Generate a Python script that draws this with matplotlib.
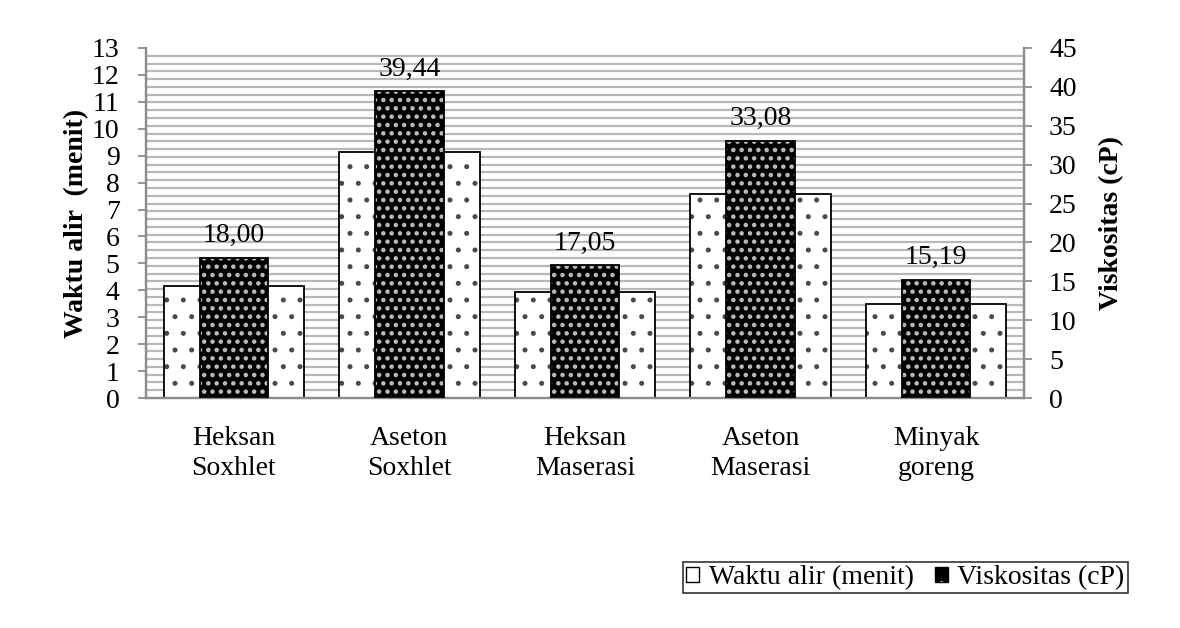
import numpy as np
import matplotlib
matplotlib.use("Agg")
import matplotlib.pyplot as plt
from matplotlib.patches import Patch
from matplotlib.ticker import FixedLocator

plt.rcParams['font.family'] = ['Liberation Serif', 'DejaVu Serif']

categories = ["Heksan\nSoxhlet", "Aseton\nSoxhlet", "Heksan\nMaserasi", "Aseton\nMaserasi", "Minyak\ngoreng"]
waktu_alir = [4.15, 9.12, 3.92, 7.58, 3.50]
viskositas = [18.00, 39.44, 17.05, 33.08, 15.19]
visk_labels = ["18,00", "39,44", "17,05", "33,08", "15,19"]

gray = "#8c8c8c"
fs = 20

fig = plt.figure(figsize=(11.8, 6.28), dpi=100)
ax1 = fig.add_axes([0.1237, 0.3662, 0.7441, 0.5574])
ax2 = ax1.twinx()

x = np.arange(len(categories))

# white bars (waktu alir) with sparse dark dots
with plt.rc_context({'hatch.linewidth': 1.2}):
    ax1.bar(x, waktu_alir, width=0.8, color="white", edgecolor="#4a4a4a", hatch=".", linewidth=0, zorder=2)
ax1.bar(x, waktu_alir, width=0.8, fill=False, edgecolor="black", linewidth=1.3, zorder=3)

# black bars (viskositas) with white dots
with plt.rc_context({'hatch.linewidth': 2.0}):
    ax2.bar(x, viskositas, width=0.39, color="black", edgecolor="#bdbdbd", hatch="..", linewidth=0, zorder=2)
ax2.bar(x, viskositas, width=0.39, fill=False, edgecolor="black", linewidth=1.3, zorder=3)

for xi, v, lab in zip(x, viskositas, visk_labels):
    ax2.annotate(lab, (xi, v), xytext=(0, 7), textcoords="offset points",
                 ha="center", va="bottom", fontsize=fs)

ax1.set_xlim(-0.5, len(categories) - 0.5)
ax1.set_ylim(0, 13)
ax2.set_ylim(0, 45)

ax1.set_yticks(np.arange(0, 14, 1))
ax2.set_yticks(np.arange(0, 46, 5))
# gridlines every 1 cP, drawn on the left axis so they stay behind the bars
ax1.yaxis.set_minor_locator(FixedLocator(np.arange(0, 46, 1) * 13 / 45))
ax1.yaxis.grid(True, which="minor", color="#b8b8b8", linewidth=1.6)
ax1.set_axisbelow(True)

ax1.set_xticks(x)
ax1.set_xticklabels(categories, fontsize=fs, linespacing=1.25)
ax1.tick_params(axis="x", length=0, pad=20)
ax1.tick_params(axis="y", which="major", labelsize=fs, length=6, width=1.3, color=gray, pad=13)
ax1.tick_params(axis="y", which="minor", length=0)
ax2.tick_params(axis="y", labelsize=fs, length=6, width=1.3, color=gray, pad=12)

for ax in (ax1, ax2):
    ax.spines["top"].set_visible(False)
    for s in ("left", "right", "bottom"):
        ax.spines[s].set_color(gray)
        ax.spines[s].set_linewidth(1.6)

ax1.set_ylabel("Waktu alir  (menit)", fontsize=fs, fontweight="bold", labelpad=2)
ax2.set_ylabel("Viskositas (cP)", fontsize=fs, fontweight="bold", labelpad=16)

with plt.rc_context({'hatch.linewidth': 1.5}):
    h_visk = (Patch(facecolor="black", edgecolor="#c8c8c8", hatch=".", linewidth=0),
              Patch(fill=False, edgecolor="black", linewidth=1.0))
h_waktu = Patch(facecolor="white", edgecolor="black", linewidth=1.0)
leg = fig.legend([h_waktu, h_visk], ["Waktu alir (menit)", "Viskositas (cP)"], loc="lower right",
                 bbox_to_anchor=(0.956, 0.055), ncol=2, fontsize=fs, frameon=True,
                 fancybox=False, edgecolor="black", handlelength=0.47, handleheight=0.47,
                 handletextpad=0.35, columnspacing=0.75, borderpad=0.12, borderaxespad=0)
leg.get_frame().set_linewidth(1.2)

fig.savefig("out.png", dpi=100)
